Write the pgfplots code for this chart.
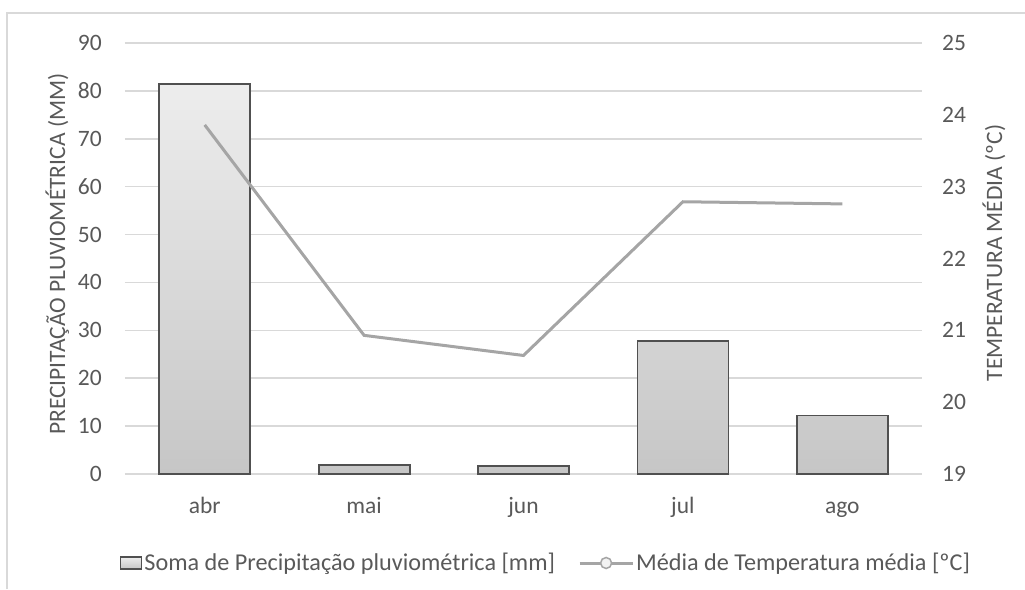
\documentclass[border=0pt]{standalone}
\usepackage{fontspec}
\setmainfont{Carlito}
\usepackage{pgfplots}
\pgfplotsset{compat=1.18}
\definecolor{txt}{HTML}{595959}
\definecolor{gridc}{HTML}{D9D9D9}
\definecolor{barline}{HTML}{505050}
\definecolor{ln}{HTML}{A5A5A5}
\definecolor{bartop}{HTML}{EDEDED}
\definecolor{barbot}{HTML}{C6C6C6}
\newcommand{\chartfont}{\fontsize{23.5}{28}\selectfont}
\newcommand{\legfont}{\fontsize{24.2}{28}\selectfont}
\begin{document}
\begin{tikzpicture}[x=1pt,y=1pt]
\useasboundingbox (-125,-115) rectangle (900,474);
\draw[gridc, line width=1.5pt] (-118,-115) -- (-118,461) -- (900,461);
\begin{axis}[
  scale only axis, width=797pt, height=431pt,
  xmin=-0.5, xmax=4.5, ymin=0, ymax=90,
  xtick={0,...,4}, xticklabels={abr,mai,jun,jul,ago},
  ytick={0,10,...,90},
  ymajorgrids, grid style={gridc, line width=1.5pt},
  axis line style={draw=none},
  major tick length=0pt,
  tick label style={font=\chartfont, text=txt},
  /pgf/number format/assume math mode=true,
  yticklabel style={anchor=east, inner sep=0pt, xshift=-23pt},
  xticklabel style={anchor=base, inner sep=0pt, yshift=-39pt},
  ylabel={PRECIPITAÇÃO PLUVIOMÉTRICA (MM)},
  every axis y label/.style={at={(axis description cs:-0.085,0.51)}, rotate=90, anchor=center, font=\chartfont, text=txt},
  legend columns=2,
  legend style={at={(axis description cs:-0.0063,-0.2065)}, anchor=west, draw=none, fill=none, inner sep=0pt, font=\legfont, text=txt,
    nodes={inner sep=2pt},
    /tikz/every even column/.append style={column sep=21pt}},
  legend cell align=left,
]
\addplot[ybar, bar width=91pt, draw=barline, line width=1.8pt, top color=bartop, bottom color=barbot,
  legend image code/.code={\draw[draw=barline, line width=1.3pt, top color=bartop, bottom color=barbot] (0pt,-6pt) rectangle (21pt,6pt);}]
  coordinates {(0,81.4) (1,1.9) (2,1.6) (3,27.8) (4,12.2)};
\addlegendentry{Soma de Precipitação pluviométrica [mm]}
\addlegendimage{legend image code/.code={\draw[ln, line width=3pt] (0pt,0pt) -- (53pt,0pt); \draw[ln, line width=1.5pt, fill=white!90!gray] (26.5pt,0pt) circle (5.5pt);}}
\addlegendentry{Média de Temperatura média [ºC]}
\end{axis}
\begin{axis}[
  scale only axis, width=797pt, height=431pt,
  xmin=-0.5, xmax=4.5, ymin=19, ymax=25,
  ytick={19,...,25},
  axis x line=none, axis y line*=right,
  axis line style={draw=none},
  major tick length=0pt,
  tick label style={font=\chartfont, text=txt},
  /pgf/number format/assume math mode=true,
  yticklabel style={anchor=west, inner sep=0pt, xshift=20pt},
  ylabel={TEMPERATURA MÉDIA (ºC)},
  every axis y label/.style={at={(axis description cs:1.0903,0.5128)}, rotate=90, anchor=center, font=\chartfont, text=txt},
]
\addplot[ln, line width=3pt, mark=none] coordinates {(0,23.86) (1,20.93) (2,20.65) (3,22.79) (4,22.76)};
\end{axis}
\end{tikzpicture}
\end{document}
